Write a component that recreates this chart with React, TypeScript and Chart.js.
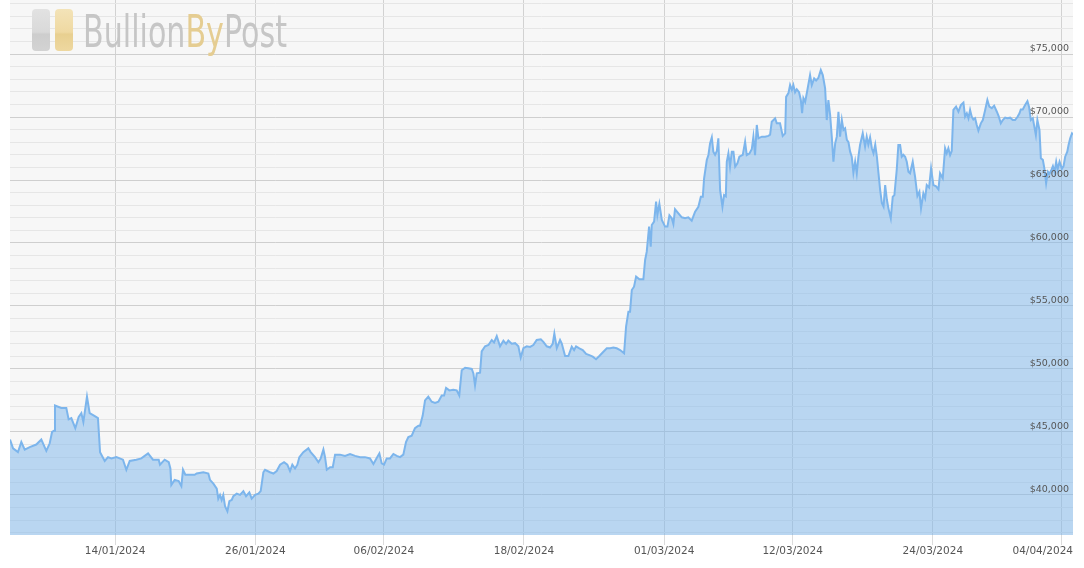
import React, { useEffect, useRef } from 'react';
import { Chart, registerables } from 'chart.js';

Chart.register(...registerables);

// ---- Data (day of month, USD price) ----
const janDays = [5.00,5.26,5.68,5.97,6.26,6.69,7.25,7.68,8.11,8.40,8.60,8.77,8.85,9.39,9.82,10.02,10.25,10.59,10.88,11.11,11.28,11.59,11.82,12.19,12.53,12.71,13.11,13.39,13.68,14.11,14.67,14.96,15.25,15.81,16.24,16.82,17.24,17.73,17.84,18.24,18.59,18.73,18.81,19.10,19.44,19.67,19.81,20.01,20.81,20.98,21.55,21.98,22.12,22.41,22.70,22.83,22.98,23.12,23.26,23.41,23.61,23.78,23.98,24.12,24.41,24.69,24.98,25.21,25.49,25.69,25.98,26.26,26.46,26.69,26.83,27.26,27.55,27.83,28.12,28.46,28.74,28.97,29.17,29.40,29.60,29.77,30.11,30.54,30.74,31.11,31.40,31.60,31.83,31.97];
const janPrices = [44400,43700,43400,44200,43600,43800,44000,44400,43500,44100,45000,45100,47100,46900,46900,46000,46100,45300,46200,46500,45800,47800,46500,46300,46100,43400,42700,43000,42900,43000,42800,42000,42700,42800,42900,43300,42800,42800,42400,42800,42600,42100,40800,41200,41100,40700,42000,41600,41600,41700,41800,41700,41200,40900,40500,39700,40000,39600,40000,39100,38700,39500,39600,39900,40100,40000,40300,39900,40200,39700,40000,40100,40300,41800,42000,41800,41700,41900,42400,42600,42400,41900,42400,42100,42400,43000,43400,43700,43400,43000,42600,42900,43600,43000];

const febDays = [1.12,1.40,1.63,1.83,2.25,2.68,3.11,3.54,3.97,4.39,4.82,5.11,5.37,5.62,5.82,6.02,6.25,6.53,6.82,7.11,7.39,7.67,7.90,8.10,8.39,8.67,8.96,9.10,9.33,9.53,9.81,10.10,10.39,10.67,10.96,11.16,11.33,11.61,11.95,12.24,12.46,12.67,12.96,13.24,13.53,13.67,13.81,13.96,14.24,14.38,14.67,14.96,15.24,15.44,15.67,15.95,16.24,16.47,16.66,16.95,17.24,17.52,17.72,17.95,18.24,18.52,18.80,19.09,19.44,19.66,19.95,20.23,20.46,20.60,20.81,21.09,21.23,21.52,21.80,22.09,22.29,22.46,22.74,23.03,23.32,23.60,23.89,24.17,24.45,24.80,25.09,25.37,25.65,25.94,26.23,26.57,26.74,26.94,27.08,27.23,27.42,27.60,27.88,28.22,28.37,28.51,28.71,28.85,28.94,29.14,29.31,29.42,29.59,29.80];
const febPrices = [42000,42200,42200,43200,43200,43100,43250,43100,43000,43000,42900,42450,42900,43300,42500,42400,42900,42900,43250,43100,43000,43200,44200,44600,44700,45300,45500,45500,46300,47500,47800,47400,47300,47400,47900,47900,48500,48300,48350,48300,47900,49900,50100,50050,50000,49650,48700,49650,49700,51400,51800,51900,52300,52100,52600,51800,52250,52000,52250,52000,52050,51800,50900,51650,51800,51750,51900,52300,52350,52150,51800,51700,52000,52800,51650,52300,52040,51030,51030,51770,51500,51800,51640,51500,51190,51100,50980,50770,51030,51370,51640,51640,51700,51640,51500,51240,53360,54550,54550,56270,56530,57330,57120,57120,58650,59310,61300,59710,61430,61700,63280,62220,63100,61830];

const marDays = [1.08,1.28,1.45,1.65,1.79,1.93,2.22,2.51,2.79,3.07,3.36,3.65,3.93,4.14,4.31,4.42,4.65,4.79,4.93,5.08,5.21,5.36,5.51,5.64,5.79,5.99,6.13,6.28,6.36,6.50,6.64,6.79,6.93,7.08,7.27,7.44,7.73,7.93,8.07,8.30,8.50,8.64,8.78,8.93,9.07,9.36,9.64,9.92,10.07,10.21,10.50,10.64,10.92,11.15,11.36,11.44,11.64,11.78,11.93,12.06,12.21,12.35,12.55,12.70,12.81,12.92,13.07,13.26,13.49,13.64,13.84,14.01,14.20,14.41,14.58,14.78,14.92,15.06,15.21,15.35,15.49,15.64,15.78,15.92,16.06,16.21,16.35,16.49,16.64,16.78,16.92,17.06,17.20,17.35,17.49,17.63,17.77,18.00,18.20,18.34,18.48,18.63,18.78,18.92,19.07,19.21,19.35,19.49,19.64,19.78,19.92,20.07,20.20,20.40,20.57,20.71,20.91,21.05,21.20,21.34,21.48,21.63,21.77,21.91,22.05,22.28,22.48,22.68,22.85,22.99,23.19,23.34,23.48,23.68,23.85,24.05,24.28,24.48,24.62,24.85,25.05,25.19,25.33,25.48,25.62,25.76,25.99,26.19,26.40,26.62,26.76,26.91,27.05,27.19,27.33,27.47,27.62,27.76,27.90,28.11,28.28,28.48,28.67,28.84,29.05,29.25,29.48,29.65,29.82,29.99,30.19,30.38,30.62,30.84,31.04,31.24,31.42,31.53,31.70,31.90];
const marPrices = [61300,61300,62200,61960,61500,62680,62360,62040,61960,62040,61770,62490,62880,63680,63680,65140,66590,66990,67910,68390,67250,67000,67300,68310,64200,62880,63800,63700,66450,67120,66060,67250,67250,66060,66320,66850,67000,68040,66980,67100,67440,68440,66980,69370,68310,68440,68440,68500,68600,69630,69900,69500,69500,68500,68700,71600,71900,72540,72150,72540,71970,72200,71970,71350,70300,71500,71200,72150,73330,72540,73070,72900,73100,73730,73330,72280,69760,71350,70160,68440,66450,67910,68440,70420,68440,69760,68970,69100,68180,68000,67250,66850,65580,66450,65530,66850,67780,68710,67650,68440,67800,68380,67520,67120,67800,66850,65530,64210,63150,62880,64600,63410,62750,61960,63680,63800,65800,67780,67780,66850,67000,66850,66450,65660,65530,66450,65260,63730,64070,62750,63940,63550,64600,64400,65930,64600,64500,64260,65530,65140,67520,67120,67520,66980,67300,70560,70820,70420,70950,71140,70030,70300,69900,70560,70030,69800,69900,69370,68920,69500,69760,70560,71350,70820,70700,70900,70420,70030,69500,69760,69950,69900,69950,69760,69760,70000,70300,70600,70600,70950];

const aprDays = [1.10,1.24,1.39,1.56,1.69,1.82,1.95,2.13,2.25,2.42,2.55,2.70,2.85,2.99,3.13,3.28,3.42,3.56,3.68,3.85,4.05,4.19,4.33,4.51,4.62,4.76,4.91,5.00];
const aprPrices = [71250,70800,69760,69900,69240,68570,69760,68970,66720,66600,65930,64740,65660,65500,65750,66110,65660,66450,65850,66450,65900,66100,66850,67250,67780,68310,68700,68600];

// Day-of-year offsets (2024 is a leap year)
const monthOffsets = [0, 31, 60, 91];

// Axis ticks (x in day-of-year 2024)
const xTickDays = [14, 26, 37, 49, 61, 72, 84, 95];
const xTickLabels = ['14/01/2024', '26/01/2024', '06/02/2024', '18/02/2024', '01/03/2024', '12/03/2024', '24/03/2024', '04/04/2024'];
const yLabelValues = [40000, 45000, 50000, 55000, 60000, 65000, 70000, 75000];
const yMinorStep = 1000;
const X_MIN = 5;
const X_MAX = 96;
const Y_MIN = 36820;
const Y_MAX = 79290;

function buildPoints() {
  const months = [
    [janDays, janPrices],
    [febDays, febPrices],
    [marDays, marPrices],
    [aprDays, aprPrices],
  ];
  const pts: { x: number; y: number }[] = [];
  months.forEach(([days, prices], m) => {
    const n = Math.min(days.length, prices.length);
    for (let i = 0; i < n; i++) pts.push({ x: monthOffsets[m] + days[i], y: prices[i] });
  });
  return pts;
}

const FONT = '"DejaVu Sans", Verdana, sans-serif';

const backgroundPlugin = {
  id: 'bgPlot',
  beforeDraw(chart: any) {
    const { ctx, chartArea, width, height } = chart;
    ctx.save();
    ctx.fillStyle = '#ffffff';
    ctx.fillRect(0, 0, width, height);
    ctx.fillStyle = '#f7f7f7';
    ctx.fillRect(chartArea.left, chartArea.top, chartArea.right - chartArea.left, chartArea.bottom - chartArea.top);
    ctx.restore();
  },
};

function rr(ctx: CanvasRenderingContext2D, x: number, y: number, w: number, h: number, r: number) {
  ctx.beginPath();
  ctx.moveTo(x + r, y);
  ctx.lineTo(x + w - r, y);
  ctx.quadraticCurveTo(x + w, y, x + w, y + r);
  ctx.lineTo(x + w, y + h - r);
  ctx.quadraticCurveTo(x + w, y + h, x + w - r, y + h);
  ctx.lineTo(x + r, y + h);
  ctx.quadraticCurveTo(x, y + h, x, y + h - r);
  ctx.lineTo(x, y + r);
  ctx.quadraticCurveTo(x, y, x + r, y);
  ctx.closePath();
}

const logoPlugin = {
  id: 'logo',
  beforeDatasetsDraw(chart: any) {
    const ctx: CanvasRenderingContext2D = chart.ctx;
    ctx.save();
    const g1 = ctx.createLinearGradient(0, 9, 0, 51);
    g1.addColorStop(0, '#e2e2e2');
    g1.addColorStop(0.55, '#d9d9d9');
    g1.addColorStop(0.6, '#cdcdcd');
    g1.addColorStop(1, '#d3d3d3');
    rr(ctx, 32, 9, 18, 42, 4);
    ctx.fillStyle = g1;
    ctx.fill();
    const g2 = ctx.createLinearGradient(0, 9, 0, 51);
    g2.addColorStop(0, '#f3e3b8');
    g2.addColorStop(0.55, '#efd9a2');
    g2.addColorStop(0.6, '#e8cf90');
    g2.addColorStop(1, '#eed8a0');
    rr(ctx, 55, 9, 18, 42, 4);
    ctx.fillStyle = g2;
    ctx.fill();

    ctx.font = '400 44px ' + FONT;
    ctx.textBaseline = 'alphabetic';
    ctx.textAlign = 'left';
    const parts = [
      { t: 'Bullion', c: '#c6c6c6' },
      { t: 'By', c: '#e5cd92' },
      { t: 'Post', c: '#c6c6c6' },
    ];
    const total = parts.reduce((s, p) => s + ctx.measureText(p.t).width, 0);
    const sx = 204 / total;
    ctx.translate(83, 47);
    ctx.scale(sx, 1);
    let x = 0;
    parts.forEach((p) => {
      ctx.fillStyle = p.c;
      ctx.fillText(p.t, x, 0);
      x += ctx.measureText(p.t).width;
    });
    ctx.restore();
  },
};

const labelsPlugin = {
  id: 'axisLabels',
  afterDraw(chart: any) {
    const { ctx, chartArea } = chart;
    const xs = chart.scales.x;
    const ys = chart.scales.y;
    ctx.save();
    ctx.fillStyle = '#555555';
    ctx.textBaseline = 'alphabetic';
    ctx.font = '9.5px ' + FONT;
    ctx.textAlign = 'right';
    yLabelValues.forEach((v) => {
      const py = ys.getPixelForValue(v);
      ctx.fillText('$' + v.toLocaleString('en-US'), chartArea.right - 4, py - 3);
    });
    ctx.font = '10.5px ' + FONT;
    ctx.textAlign = 'center';
    xTickDays.forEach((d, i) => {
      const label = xTickLabels[i];
      const w = ctx.measureText(label).width;
      let cx = xs.getPixelForValue(d);
      cx = Math.min(cx, chartArea.right - w / 2);
      ctx.fillText(label, cx, chartArea.bottom + 19);
    });
    ctx.restore();
  },
};

export default function App() {
  const ref = useRef<HTMLCanvasElement>(null);
  useEffect(() => {
    const canvas = ref.current;
    if (!canvas) return;
    const chart = new Chart(canvas, {
      type: 'line',
      data: {
        datasets: [
          {
            label: 'Bitcoin price (USD)',
            data: buildPoints(),
            borderColor: '#7cb5ec',
            borderWidth: 2,
            backgroundColor: 'rgba(124,181,236,0.5)',
            fill: 'start',
            pointRadius: 0,
            tension: 0,
          },
        ],
      },
      options: {
        responsive: false,
        animation: false,
        parsing: true,
        layout: { padding: { left: 10, right: 11, top: 0, bottom: 23 } },
        plugins: {
          legend: { display: false },
          tooltip: { enabled: false },
        },
        scales: {
          x: {
            type: 'linear',
            min: X_MIN,
            max: X_MAX,
            afterBuildTicks: (s: any) => {
              s.ticks = xTickDays.map((v) => ({ value: v }));
            },
            ticks: { display: false, autoSkip: false },
            grid: { color: '#d2d2d2', tickColor: '#dcdcdc', tickLength: 10, drawTicks: true },
            border: { display: false },
          },
          y: {
            type: 'linear',
            position: 'right',
            min: Y_MIN,
            max: Y_MAX,
            afterBuildTicks: (s: any) => {
              const t: { value: number }[] = [];
              for (let v = Math.ceil(Y_MIN / yMinorStep) * yMinorStep; v <= Y_MAX; v += yMinorStep) t.push({ value: v });
              s.ticks = t;
            },
            ticks: { display: false, autoSkip: false },
            grid: {
              drawTicks: false,
              color: (c: any) => (c.tick && c.tick.value % 5000 === 0 ? '#cfcfcf' : '#e6e6e6'),
            },
            border: { display: false },
          },
        },
      },
      plugins: [backgroundPlugin, logoPlugin, labelsPlugin],
    });
    return () => chart.destroy();
  }, []);
  return (
    <div style={{ position: 'fixed', left: 0, top: 0, width: 1084, height: 568, background: '#ffffff' }}>
      <canvas ref={ref} width={1084} height={568} style={{ display: 'block' }} />
    </div>
  );
}
